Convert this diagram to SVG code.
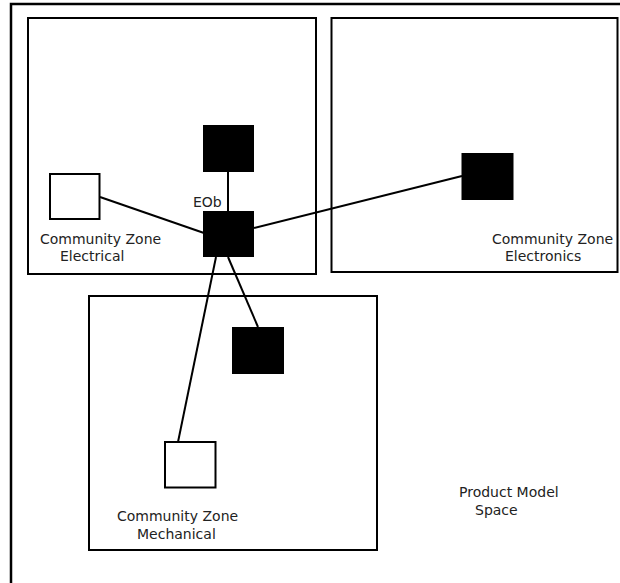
<svg xmlns="http://www.w3.org/2000/svg" width="620" height="583" viewBox="0 0 620 583">
<style>
.frame{fill:none;stroke:#000;stroke-width:2.5}
.zone{fill:#fff;stroke:#000;stroke-width:2}
.blk{fill:#000;stroke:#000;stroke-width:1}
.wht{fill:#fff;stroke:#000;stroke-width:2}
.con{stroke:#000;stroke-width:2;fill:none}
text{font-family:"DejaVu Sans","Liberation Sans",sans-serif;font-size:14px;fill:#222}
</style>
<rect x="0" y="0" width="620" height="583" fill="#fff"/>
<path class="frame" d="M11,583 V4 H620"/>
<g id="zone-electrical">
<rect class="zone" x="28" y="18" width="288" height="256"/>
<text x="40" y="243.5">Community Zone</text>
<text x="60" y="260.5">Electrical</text>
</g>
<g id="zone-electronics">
<rect class="zone" x="331.5" y="18" width="286" height="254"/>
<text x="492" y="244">Community Zone</text>
<text x="505" y="261">Electronics</text>
</g>
<g id="zone-mechanical">
<rect class="zone" x="89" y="296" width="288" height="254"/>
<text x="117" y="521">Community Zone</text>
<text x="137" y="539">Mechanical</text>
</g>
<g id="product-model-space">
<text x="459" y="497">Product Model</text>
<text x="475" y="515">Space</text>
</g>
<g id="connectors">
<line class="con" x1="100" y1="197" x2="204" y2="233"/>
<line class="con" x1="228" y1="172" x2="228" y2="211"/>
<line class="con" x1="254" y1="228" x2="462" y2="176"/>
<line class="con" x1="216" y1="257" x2="178" y2="442"/>
<line class="con" x1="228" y1="257" x2="258" y2="327"/>
</g>
<g id="node-elec-white"><rect class="wht" x="50" y="174" width="49.5" height="45"/></g>
<g id="node-elec-top"><rect class="blk" x="203.5" y="125.5" width="50" height="46"/></g>
<g id="node-eob">
<rect class="blk" x="203.5" y="211.5" width="50" height="45"/>
<text x="193" y="207">EOb</text>
</g>
<g id="node-electronics"><rect class="blk" x="462" y="153.5" width="51" height="46"/></g>
<g id="node-mech-black"><rect class="blk" x="232.5" y="327.5" width="51" height="46"/></g>
<g id="node-mech-white"><rect class="wht" x="165" y="442" width="50.5" height="45.5"/></g>
</svg>
